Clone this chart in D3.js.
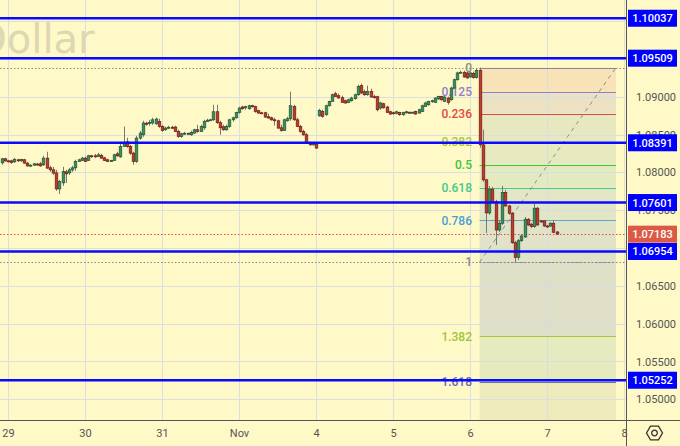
<!DOCTYPE html>
<html><head><meta charset="utf-8">
<script src="https://cdn.jsdelivr.net/npm/d3@7"></script>
<style>body{margin:0;background:#fef9c6;}svg{display:block;}</style>
</head><body><svg id="c" width="680" height="446"></svg>
<script>
// ---- DATA ----
// hourly candles, index 0 = Oct 29 00:00 (trading hours), first candle at index -2
const firstIndex = -2;
const opens = [
1.08126,1.08179,1.08152,1.08152,1.08139,1.08166,1.08152,1.08166,1.08122,1.08086,
1.08095,1.08109,1.08113,1.08099,1.08188,1.08060,1.08033,1.07993,1.07781,1.07861,
1.08007,1.07993,1.08033,1.08060,1.08144,1.08157,1.08188,1.08157,1.08219,1.08219,
1.08209,1.08225,1.08192,1.08166,1.08152,1.08157,1.08245,1.08205,1.08342,1.08404,
1.08342,1.08254,1.08144,1.08453,1.08497,1.08649,1.08652,1.08652,1.08642,1.08673,
1.08607,1.08563,1.08585,1.08596,1.08599,1.08540,1.08474,1.08510,1.08517,1.08497,
1.08519,1.08563,1.08540,1.08589,1.08673,1.08689,1.08695,1.08801,1.08656,1.08603,
1.08563,1.08607,1.08695,1.08722,1.08792,1.08864,1.08854,1.08841,1.08881,1.08868,
1.08815,1.08788,1.08788,1.08735,1.08722,1.08695,1.08682,1.08589,1.08554,1.08682,
1.08709,1.08872,1.08695,1.08607,1.08540,1.08497,1.08387,1.08364,1.08374,1.08748,
1.08805,1.08762,1.08881,1.08938,1.09040,1.09013,1.08987,1.08947,1.08925,1.08947,
1.08974,1.09026,1.09146,1.09066,1.09026,1.09070,1.09000,1.09000,1.08850,1.08907,
1.08864,1.08801,1.08788,1.08781,1.08792,1.08762,1.08792,1.08795,1.08788,1.08805,
1.08784,1.08805,1.08872,1.08894,1.08938,1.08925,1.08970,1.09004,1.08938,1.08983,
1.08960,1.09115,1.09225,1.09314,1.09323,1.09314,1.09261,1.09305,1.09252,1.09349,
1.08364,1.07901,1.07464,1.07777,1.07613,1.07238,1.07327,1.07734,1.07556,1.07460,
1.07070,1.06877,1.07097,1.07146,1.07380,1.07314,1.07283,1.07526,1.07358,1.07358,
1.07291,1.07291,1.07327,1.07212];
const highs = [
1.08192,1.08192,1.08166,1.08166,1.08192,1.08179,1.08179,1.08179,1.08139,1.08106,
1.08126,1.08126,1.08139,1.08219,1.08272,1.08086,1.08073,1.08033,1.07901,1.08073,
1.08033,1.08060,1.08086,1.08166,1.08179,1.08205,1.08205,1.08232,1.08232,1.08245,
1.08258,1.08245,1.08205,1.08179,1.08166,1.08245,1.08272,1.08404,1.08607,1.08457,
1.08364,1.08272,1.08483,1.08550,1.08682,1.08669,1.08695,1.08722,1.08722,1.08709,
1.08629,1.08603,1.08616,1.08616,1.08616,1.08563,1.08523,1.08536,1.08523,1.08550,
1.08576,1.08629,1.08629,1.08695,1.08709,1.08709,1.08894,1.08894,1.08682,1.08629,
1.08629,1.08709,1.08735,1.08801,1.08868,1.08881,1.08881,1.08894,1.08894,1.08881,
1.08828,1.08801,1.08801,1.08775,1.08735,1.08722,1.08695,1.08629,1.08709,1.08735,
1.09066,1.08894,1.08722,1.08629,1.08563,1.08523,1.08404,1.08404,1.08391,1.08841,
1.08828,1.08894,1.08947,1.09040,1.09066,1.09040,1.09013,1.08960,1.08974,1.09000,
1.09040,1.09159,1.09172,1.09093,1.09146,1.09106,1.09026,1.09013,1.08934,1.08921,
1.08881,1.08815,1.08801,1.08815,1.08801,1.08801,1.08815,1.08801,1.08801,1.08815,
1.08841,1.08894,1.08934,1.08947,1.08960,1.08987,1.09013,1.09013,1.09013,1.09000,
1.09132,1.09238,1.09331,1.09344,1.09344,1.09331,1.09331,1.09331,1.09371,1.09384,
1.08563,1.07914,1.07821,1.07808,1.07636,1.07371,1.07821,1.07768,1.07570,1.07477,
1.07093,1.07119,1.07185,1.07411,1.07397,1.07331,1.07583,1.07543,1.07371,1.07371,
1.07305,1.07344,1.07371,1.07225];
const lows = [
1.08099,1.08139,1.08132,1.08113,1.08126,1.08139,1.08139,1.08113,1.08073,1.08073,
1.08086,1.08093,1.08073,1.08086,1.08046,1.08007,1.07967,1.07755,1.07715,1.07821,
1.07861,1.07967,1.08007,1.08020,1.08139,1.08152,1.08139,1.08152,1.08192,1.08192,
1.08205,1.08179,1.08152,1.08139,1.08139,1.08152,1.08205,1.08192,1.08338,1.08325,
1.08232,1.08099,1.08126,1.08431,1.08470,1.08616,1.08616,1.08629,1.08629,1.08589,
1.08536,1.08550,1.08576,1.08576,1.08536,1.08457,1.08457,1.08497,1.08497,1.08483,
1.08510,1.08523,1.08536,1.08563,1.08669,1.08682,1.08682,1.08642,1.08497,1.08550,
1.08550,1.08589,1.08669,1.08709,1.08775,1.08828,1.08828,1.08828,1.08854,1.08788,
1.08775,1.08768,1.08722,1.08709,1.08682,1.08616,1.08576,1.08536,1.08550,1.08669,
1.08682,1.08682,1.08603,1.08523,1.08483,1.08378,1.08351,1.08351,1.08311,1.08735,
1.08722,1.08748,1.08868,1.08934,1.09000,1.08974,1.08921,1.08907,1.08914,1.08934,
1.08960,1.09013,1.09040,1.09013,1.09013,1.08987,1.08974,1.08805,1.08828,1.08841,
1.08788,1.08762,1.08762,1.08768,1.08748,1.08748,1.08775,1.08775,1.08775,1.08762,
1.08775,1.08801,1.08868,1.08881,1.08921,1.08921,1.08960,1.08947,1.08934,1.08894,
1.08947,1.09106,1.09212,1.09305,1.09252,1.09238,1.09252,1.09238,1.09238,1.08325,
1.07874,1.07199,1.07437,1.07596,1.07040,1.07212,1.07305,1.07543,1.07437,1.07053,
1.06815,1.06842,1.07079,1.07132,1.07291,1.07265,1.07265,1.07291,1.07331,1.07278,
1.07265,1.07278,1.07199,1.07172];
const closes = [
1.08179,1.08152,1.08146,1.08132,1.08172,1.08152,1.08172,1.08122,1.08086,1.08095,
1.08113,1.08106,1.08086,1.08188,1.08056,1.08033,1.07990,1.07781,1.07878,1.08011,
1.07980,1.08033,1.08060,1.08144,1.08166,1.08188,1.08144,1.08219,1.08212,1.08205,
1.08232,1.08188,1.08157,1.08144,1.08157,1.08232,1.08219,1.08342,1.08396,1.08342,
1.08254,1.08144,1.08453,1.08519,1.08652,1.08636,1.08661,1.08695,1.08705,1.08607,
1.08554,1.08585,1.08596,1.08589,1.08540,1.08474,1.08510,1.08517,1.08510,1.08527,
1.08563,1.08540,1.08607,1.08673,1.08689,1.08695,1.08801,1.08656,1.08589,1.08563,
1.08607,1.08695,1.08722,1.08792,1.08850,1.08841,1.08868,1.08881,1.08868,1.08805,
1.08784,1.08781,1.08731,1.08718,1.08695,1.08682,1.08585,1.08554,1.08695,1.08709,
1.08881,1.08695,1.08607,1.08540,1.08497,1.08387,1.08364,1.08384,1.08321,1.08819,
1.08740,1.08881,1.08938,1.09026,1.09004,1.08983,1.08925,1.08917,1.08960,1.08983,
1.09026,1.09136,1.09049,1.09026,1.09070,1.08996,1.08987,1.08828,1.08917,1.08854,
1.08793,1.08771,1.08781,1.08801,1.08762,1.08792,1.08801,1.08788,1.08795,1.08771,
1.08828,1.08881,1.08917,1.08938,1.08947,1.08983,1.09004,1.08960,1.08996,1.08925,
1.09115,1.09225,1.09314,1.09323,1.09261,1.09248,1.09314,1.09252,1.09349,1.08364,
1.07901,1.07464,1.07777,1.07613,1.07238,1.07327,1.07734,1.07556,1.07460,1.07070,
1.06877,1.07097,1.07159,1.07380,1.07305,1.07283,1.07526,1.07305,1.07351,1.07291,
1.07278,1.07327,1.07208,1.07183];

const dayTicks = [0,24,48,72,96,120,144,168,192];
const dayLabels = ["29","30","31","Nov","4","5","6","7","8"];
const priceTicks = [1.05,1.055,1.06,1.065,1.07,1.075,1.08,1.085,1.09,1.095,1.10];
const priceTickLabels = [1.05,1.055,1.06,1.065,1.075,1.08,1.085,1.09];
const levelLines = [1.10037,1.09509,1.08391,1.07601,1.06954,1.05252];
const lastPrice = 1.07183;
const fibHigh = 1.09384, fibLow = 1.06815;
const fibStartIdx = 147, fibEndIdx = 189.5;
const fibLevels = [0,0.125,0.236,0.382,0.5,0.618,0.786,1,1.382,1.618];
const fibLabels = ["0","0.125","0.236","0.382","0.5","0.618","0.786","1","1.382","1.618"];
const watermark = "Dollar";

// ---- STYLE ----
const BG = "#fef9c6";
const fibLineColors = ["#8a8a8a","#8f7fd0","#e04848","#b3cf3a","#3cc63c","#3ec98e","#5aaac6","#8a8a8a","#a8c83a","#6b6fa8"];
const fibLabelColors = ["#8a8a8a","#8f7fd0","#e04848","#a9c93a","#3cc63c","#3ec98e","#4a9fd8","#8a8a8a","#a0c437","#6468b8"];
const fibFill = ["#f8e3b9","#ece1c3","#e8e8c0","#e6eabe","#e3eac0","#e2e6c4","#e0e3c8","#dedfc6","#e6eabf"];
const fibFillBelow = "#efeabc";

const svg = d3.select("#c");
const W = 680, H = 446, plotR = 626, plotB = 420;
svg.append("rect").attr("width", W).attr("height", H).attr("fill", BG);

const y = d3.scaleLinear().domain([1.05, 1.09]).range([399.3, 96.7]);
const x = d3.scaleLinear().domain([0, 192]).range([8, 624]);

svg.append("clipPath").attr("id","plot").append("rect").attr("x",0).attr("y",0).attr("width",plotR).attr("height",plotB);
const plot = svg.append("g").attr("clip-path","url(#plot)");

// fib fills
const fx0 = x(fibStartIdx), fx1 = x(fibEndIdx);
const fibPrice = l => fibHigh - l * (fibHigh - fibLow);
const fills = plot.append("g");
fibLevels.slice(0, -1).forEach((l, i) => {
  const a = y(fibPrice(l)), b = y(fibPrice(fibLevels[i + 1]));
  fills.append("rect").attr("x", fx0).attr("y", a).attr("width", fx1 - fx0).attr("height", b - a).attr("fill", fibFill[i]);
});
fills.append("rect").attr("x", fx0).attr("y", y(fibPrice(1.618))).attr("width", fx1 - fx0)
  .attr("height", plotB - y(fibPrice(1.618))).attr("fill", fibFillBelow);

// grid
const grid = plot.append("g").attr("stroke", "#d6dde6").attr("stroke-width", 1).attr("opacity", 0.9);
priceTicks.forEach(p => grid.append("line").attr("x1", 0).attr("x2", plotR).attr("y1", Math.round(y(p)) + 0.5).attr("y2", Math.round(y(p)) + 0.5));
dayTicks.forEach(d => grid.append("line").attr("y1", 0).attr("y2", plotB).attr("x1", Math.round(x(d)) + 0.5).attr("x2", Math.round(x(d)) + 0.5));

// watermark
plot.append("text").attr("x", -24).attr("y", 53).attr("font-family", "DejaVu Sans").attr("font-size", 40)
  .attr("fill", "#ddd7b4").text(watermark);

// fib lines
fibLevels.forEach((l, i) => {
  const yy = Math.round(y(fibPrice(l))) + 0.5;
  const ln = plot.append("line").attr("x1", fx0).attr("x2", fx1).attr("y1", yy).attr("y2", yy)
    .attr("stroke", fibLineColors[i]).attr("stroke-width", 1);
  if (l === 1) ln.attr("stroke-dasharray", "2,2");
});
// extended dotted lines at fib 0 and 1
[0, 1].forEach(l => {
  const yy = Math.round(y(fibPrice(l))) + 0.5;
  plot.append("line").attr("x1", 0).attr("x2", plotR).attr("y1", yy).attr("y2", yy)
    .attr("stroke", "#8a8a8a").attr("stroke-width", 1).attr("stroke-dasharray", "1.5,2");
});
// fib labels
fibLevels.forEach((l, i) => {
  plot.append("text").attr("x", 472).attr("y", y(fibPrice(l))).attr("dy", "0.36em")
    .attr("text-anchor", "end").attr("font-family", "Roboto").attr("font-size", 12).attr("font-weight", 500)
    .attr("fill", fibLabelColors[i]).text(fibLabels[i]);
});
// diagonal trend line
plot.append("line").attr("x1", fx0).attr("y1", y(fibLow)).attr("x2", fx1).attr("y2", y(fibHigh))
  .attr("stroke", "#8d8d8d").attr("stroke-width", 1).attr("stroke-dasharray", "4,4");

// current price dotted line
plot.append("line").attr("x1", 0).attr("x2", plotR).attr("y1", Math.round(y(lastPrice)) + 0.5).attr("y2", Math.round(y(lastPrice)) + 0.5)
  .attr("stroke", "#e0503c").attr("stroke-width", 1).attr("stroke-dasharray", "1.5,2");

// candles
const n = Math.min(opens.length, highs.length, lows.length, closes.length);
const candles = d3.range(n).map(k => ({i: firstIndex + k, o: opens[k], h: highs[k], l: lows[k], c: closes[k]}));
const cg = plot.append("g");
cg.selectAll("line.w").data(candles).join("line").attr("class", "w")
  .attr("x1", d => Math.round(x(d.i)) + 0.5).attr("x2", d => Math.round(x(d.i)) + 0.5)
  .attr("y1", d => y(d.h)).attr("y2", d => y(d.l)).attr("stroke", "#777").attr("stroke-width", 1);
cg.selectAll("rect.b").data(candles).join("rect").attr("class", "b")
  .attr("x", d => Math.round(x(d.i)) - 0.8).attr("width", 2.6)
  .attr("y", d => y(Math.max(d.o, d.c))).attr("height", d => Math.max(1, Math.abs(y(d.o) - y(d.c))))
  .attr("fill", d => d.c >= d.o ? "#3f8f5c" : "#c23b2a")
  .attr("stroke", d => d.c >= d.o ? "#1f5535" : "#6a1d12").attr("stroke-width", 0.7);

// blue horizontal levels
levelLines.forEach(p => {
  plot.append("line").attr("x1", 0).attr("x2", plotR).attr("y1", y(p)).attr("y2", y(p))
    .attr("stroke", "#0a0aff").attr("stroke-width", 2.4);
});

// axes lines
svg.append("line").attr("x1", plotR + 0.5).attr("x2", plotR + 0.5).attr("y1", 0).attr("y2", H).attr("stroke", "#555").attr("stroke-width", 1);
svg.append("line").attr("x1", 0).attr("x2", W).attr("y1", plotB + 0.5).attr("y2", plotB + 0.5).attr("stroke", "#555").attr("stroke-width", 1);

// right price axis
const ay = svg.append("g").attr("transform", `translate(${plotR},0)`)
  .call(d3.axisRight(y).tickValues(priceTickLabels).tickFormat(d3.format(".5f")).tickSize(0).tickPadding(10));
ay.select(".domain").remove();
ay.selectAll("text").attr("font-family", "Roboto").attr("font-size", 11).attr("fill", "#555");

// level label boxes
function box(p, fill) {
  const g = svg.append("g").attr("transform", `translate(628,${y(p)})`);
  g.append("rect").attr("x", 0).attr("y", -8.5).attr("width", 49).attr("height", 17).attr("fill", fill);
  g.append("text").attr("x", 24.5).attr("y", 0).attr("dy", "0.36em").attr("text-anchor", "middle")
    .attr("font-family", "Roboto").attr("font-size", 11).attr("font-weight", 500).attr("fill", "#fff")
    .text(d3.format(".5f")(p));
}
levelLines.forEach(p => box(p, "#0000ff"));
box(lastPrice, "#db5a44");

// bottom axis
const ax = svg.append("g").attr("transform", `translate(0,${plotB})`)
  .call(d3.axisBottom(x).tickValues(dayTicks).tickFormat((d, i) => dayLabels[i]).tickSize(0).tickPadding(9));
ax.select(".domain").remove();
ax.selectAll("text").attr("font-family", "Roboto").attr("font-size", 11).attr("fill", "#555");

// settings icon
const ic = svg.append("g").attr("transform", "translate(654.5,433)");
const hex = d3.range(6).map(k => [8 * Math.cos(Math.PI / 3 * k), 8 * Math.sin(Math.PI / 3 * k)]);
ic.append("path").attr("d", d3.line()(hex) + "Z").attr("fill", "none").attr("stroke", "#333").attr("stroke-width", 1.3);
ic.append("circle").attr("r", 2.8).attr("fill", "none").attr("stroke", "#333").attr("stroke-width", 1.3);
</script>
</body></html>
